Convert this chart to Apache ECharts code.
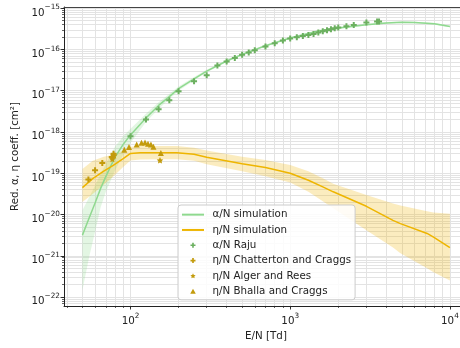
<!DOCTYPE html>
<html><head><meta charset="utf-8">
<script src="https://cdn.jsdelivr.net/npm/echarts@6.0.0/dist/echarts.min.js"></script>
<style>html,body{margin:0;padding:0;background:#fff}#c{width:460px;height:348px}</style>
</head><body><div id="c"></div>
<script>
// ---- data (E/N in Td, coefficients in cm^2) ----
const alphaSimE = [50,55,60,65,70,80,90,100,125,150,175,200,250,300,400,500,700,1000,1500,2000,3000,4000,5000,6000,8000,10000];
const alphaSim  = [3.16e-21,8.1e-21,1.9e-20,4.3e-20,8.3e-20,2.45e-19,5.0e-19,8.5e-19,2.19e-18,4.4e-18,7.2e-18,1.12e-17,1.95e-17,3.0e-17,5.25e-17,7.6e-17,1.23e-16,1.9e-16,2.82e-16,3.3e-16,3.98e-16,4.4e-16,4.57e-16,4.5e-16,4.2e-16,3.63e-16];
const alphaHi   = [1.26e-20,2.6e-20,5.0e-20,9.8e-20,1.66e-19,4.4e-19,7.9e-19,1.2e-18,2.75e-18,5.25e-18,8.3e-18,1.26e-17,2.14e-17,3.24e-17,5.56e-17,8.0e-17,1.3e-16,2.0e-16,2.95e-16,3.47e-16,4.17e-16,4.62e-16,4.79e-16,4.73e-16,4.37e-16,3.8e-16];
const alphaLo   = [1.45e-22,9.1e-22,3.8e-21,1.5e-20,3.5e-20,1.17e-19,2.8e-19,5.4e-19,1.74e-18,3.63e-18,6.3e-18,1.0e-17,1.78e-17,2.82e-17,4.95e-17,7.2e-17,1.16e-16,1.82e-16,2.69e-16,3.16e-16,3.8e-16,4.2e-16,4.37e-16,4.3e-16,3.98e-16,3.47e-16];

const etaSimE = [50,58,68,78,90,100,115,150,195,250,300,500,700,1000,1300,1600,1860,3000,4400,4900,7200,7900,10000];
const etaSim  = [4.47e-20,7.41e-20,1.12e-19,1.55e-19,2.26e-19,3.02e-19,3.16e-19,3.16e-19,3.16e-19,2.88e-19,2.45e-19,1.70e-19,1.38e-19,1.0e-19,6.76e-20,4.68e-20,3.55e-20,1.58e-20,7.2e-21,6.0e-21,3.47e-21,2.82e-21,1.58e-21];
const etaHi   = [1.26e-19,2.0e-19,2.5e-19,2.82e-19,3.55e-19,4.37e-19,4.57e-19,4.57e-19,4.57e-19,4.17e-19,3.55e-19,2.5e-19,2.09e-19,1.58e-19,1.12e-19,7.6e-20,5.6e-20,2.95e-20,1.86e-20,1.66e-20,1.2e-20,1.12e-20,1.05e-20];
const etaLo   = [2.0e-20,3.16e-20,5.25e-20,8.3e-20,1.41e-19,2.04e-19,2.14e-19,2.19e-19,2.19e-19,2.0e-19,1.66e-19,1.12e-19,8.5e-20,6.0e-20,3.55e-20,2.09e-20,1.41e-20,4.17e-21,1.58e-21,1.15e-21,5.0e-22,4.0e-22,2.5e-22];

const rajuE = [100,125,150,175,200,250,300,350,400,450,500,550,600,700,800,900,1000,1100,1200,1300,1400,1500,1600,1700,1800,1900,2000,2250,2500,3000,3500,3600];
const rajuA = [7.9e-19,2.0e-18,3.56e-18,5.9e-18,9.7e-18,1.7e-17,2.37e-17,4.08e-17,5.13e-17,6.2e-17,7.5e-17,8.4e-17,9.6e-17,1.18e-16,1.42e-16,1.65e-16,1.84e-16,1.98e-16,2.13e-16,2.25e-16,2.38e-16,2.57e-16,2.77e-16,2.93e-16,3.1e-16,3.27e-16,3.4e-16,3.66e-16,3.94e-16,4.5e-16,4.76e-16,4.8e-16];

const chattE = [54.5,60,66.6,76.3,78.3];
const chattEta = [7.1e-20,1.18e-19,1.77e-19,2.48e-19,2.96e-19];

const algerE = [77,79,153];
const algerEta = [2.2e-19,2.7e-19,2.06e-19];

const bhallaE = [91.5,97.9,109.3,117.2,123.3,128.7,134.3,139.2,155];
const bhallaEta = [3.7e-19,4.3e-19,4.95e-19,5.5e-19,5.55e-19,5.2e-19,4.95e-19,4.4e-19,3.1e-19];

const xTickExps = [2,3,4];
const yTickExps = [-22,-21,-20,-19,-18,-17,-16,-15];

const names = ['α/N simulation','η/N simulation','α/N Raju','η/N Chatterton and Craggs','η/N Alger and Rees','η/N Bhalla and Craggs'];

// ---- helpers ----
const L = Math.log10;
const pts = (xs, ys) => xs.map((x,i)=>[L(x), L(ys[i])]);
const XMIN = 1.5836, XMAX = 4.1133, YMIN = -22.218, YMAX = -14.97;
function gridVals(lo, hi){const o=[];for(let n=Math.floor(lo)-1;n<=Math.ceil(hi);n++)for(let k=1;k<10;k++){const v=n+Math.log10(k);if(v>=lo-1e-9&&v<=hi+1e-9)o.push(v);}return o;}
const FONT='DejaVu Sans', TXT='#222', AX='#222';
const fmt = v => { const e=Math.round(v); return '{b|10}{s|'+(e<0?'\u2212':'')+Math.abs(e)+'}'; };
const rich = { b:{fontSize:10.3,fontFamily:FONT,color:TXT,lineHeight:14,verticalAlign:'bottom'}, s:{fontSize:7.3,fontFamily:FONT,color:TXT,lineHeight:8,verticalAlign:'top'} };

function band(xs, lo, hi, color){
  return {type:'custom', silent:true, clip:true, z:1, data:[[2,-18]],
    renderItem:function(params, api){
      const p=[];
      for(let i=0;i<xs.length;i++) p.push(api.coord([L(xs[i]),L(hi[i])]));
      for(let i=xs.length-1;i>=0;i--) p.push(api.coord([L(xs[i]),L(lo[i])]));
      return {type:'polygon', shape:{points:p}, style:{fill:color}};
    }};
}
const plus='path://M-1,-3H1V-1H3V1H1V3H-1V1H-3V-1H-1Z';
const star='path://M0,-10L2.94,-4.05L9.51,-3.09L4.76,1.55L5.88,8.09L0,5L-5.88,8.09L-4.76,1.55L-9.51,-3.09L-2.94,-4.05Z';
const tri='path://M0,-1L1,0.8H-1Z';
const GOLD='#c39b0c', GREEN_LINE='#8fd98f', GOLD_LINE='#eeb500';

const xMinor = gridVals(XMIN,XMAX), yMinor = gridVals(YMIN,YMAX);
const baseAxis = (min,max)=>({type:'value',min:min,max:max,axisLine:{show:false,onZero:false},axisTick:{show:false},axisLabel:{show:false},splitLine:{show:false}});

const option = {
  animation:false,
  backgroundColor:'#fff',
  grid:{left:64, top:7, width:404, height:299, outerBoundsMode:'none'},
  xAxis:[
    Object.assign(baseAxis(XMIN,XMAX),{position:'bottom',
      axisTick:{show:true,length:2,customValues:xMinor,lineStyle:{color:AX,width:0.7}},
      splitLine:{show:true,lineStyle:{color:'#e3e3e3',width:1}}}),
    Object.assign(baseAxis(XMIN,XMAX),{position:'bottom',
      axisLine:{show:true,onZero:false,lineStyle:{color:AX,width:1}},
      axisTick:{show:true,length:3.5,customValues:xTickExps,lineStyle:{color:AX,width:0.9}},
      axisLabel:{show:true,customValues:xTickExps,formatter:fmt,rich:rich,margin:6.5},
      name:'E/N [Td]',nameLocation:'middle',nameGap:21,nameTextStyle:{fontFamily:FONT,fontSize:10.3,color:TXT}}),
    Object.assign(baseAxis(XMIN,XMAX),{position:'top',axisLine:{show:true,onZero:false,lineStyle:{color:'#444',width:1}}})
  ],
  yAxis:[
    Object.assign(baseAxis(YMIN,YMAX),{position:'left',
      axisTick:{show:true,length:2,customValues:yMinor,lineStyle:{color:AX,width:0.7}},
      splitLine:{show:true,lineStyle:{color:'#e3e3e3',width:1}}}),
    Object.assign(baseAxis(YMIN,YMAX),{position:'left',
      axisLine:{show:true,onZero:false,lineStyle:{color:AX,width:1}},
      axisTick:{show:true,length:3.5,customValues:yTickExps,lineStyle:{color:AX,width:0.9}},
      axisLabel:{show:true,customValues:yTickExps,formatter:fmt,rich:rich,margin:4,padding:[5.6,0,0,0]},
      name:'Red. α, η coeff. [cm²]',nameLocation:'middle',nameGap:42,nameTextStyle:{fontFamily:FONT,fontSize:10.3,color:TXT}}),
    Object.assign(baseAxis(YMIN,YMAX),{position:'right',axisLine:{show:true,onZero:false,lineStyle:{color:AX,width:1}}})
  ],
  legend:{
    data:[
      {name:names[0], itemStyle:{opacity:0}},
      {name:names[1], itemStyle:{opacity:0}},
      names[2], names[3], names[4], names[5]
    ],
    orient:'vertical', left:178, top:205, itemWidth:22, itemHeight:5, itemGap:0,
    selectedMode:false, backgroundColor:'rgba(255,255,255,0.85)', borderColor:'#cccccc', borderWidth:1, borderRadius:3,
    padding:[2,4,1,3],
    textStyle:{fontFamily:FONT,fontSize:10.3,color:TXT,lineHeight:15.3,padding:[0,0,0,3.5]}
  },
  series:[
    band(alphaSimE, alphaLo, alphaHi, 'rgba(144,220,144,0.25)'),
    band(etaSimE, etaLo, etaHi, 'rgba(238,181,0,0.25)'),
    {name:names[0],type:'line',data:pts(alphaSimE,alphaSim),symbol:'none',showSymbol:false,z:3,
      lineStyle:{color:GREEN_LINE,width:1.5},itemStyle:{color:GREEN_LINE}},
    {name:names[1],type:'line',data:pts(etaSimE,etaSim),symbol:'none',showSymbol:false,z:3,
      lineStyle:{color:GOLD_LINE,width:1.5},itemStyle:{color:GOLD_LINE}},
    {name:names[2],type:'scatter',data:pts(rajuE,rajuA),symbol:plus,symbolSize:6,z:4,itemStyle:{color:'#6cb060',opacity:1}},
    {name:names[3],type:'scatter',data:pts(chattE,chattEta),symbol:plus,symbolSize:6,z:4,itemStyle:{color:GOLD,opacity:1}},
    {name:names[4],type:'scatter',data:pts(algerE,algerEta),symbol:star,symbolSize:6.5,z:4,itemStyle:{color:GOLD,opacity:1}},
    {name:names[5],type:'scatter',data:pts(bhallaE,bhallaEta),symbol:tri,symbolSize:6,z:4,itemStyle:{color:GOLD,opacity:1}}
  ]
};
const chart = echarts.init(document.getElementById('c'), null, {renderer:'canvas'});
chart.setOption(option);
</script></body></html>
